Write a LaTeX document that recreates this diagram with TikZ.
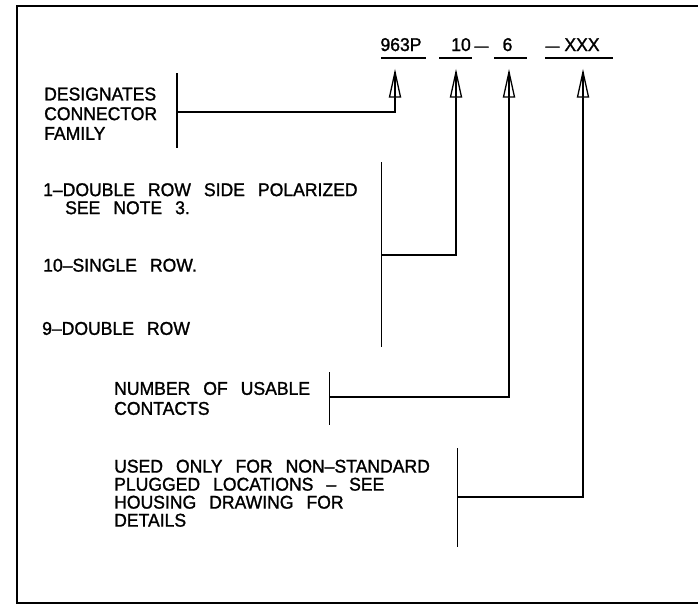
\documentclass[tikz,border=0pt]{standalone}
\usepackage{fontspec}
\newfontfamily\cadfont{Liberation Sans}[FakeStretch=0.95,FakeBold=1.3]
\newcommand\cadtext[1]{\cadfont\fontsize{18.5}{#1}\selectfont\spaceskip=13pt\relax}
\begin{document}
\begin{tikzpicture}[
	x=1pt, y=-1pt,
	note/.style={ anchor=north west, inner sep=0pt, align=left, font=\cadtext{18} },
	code/.style={ anchor=base, inner sep=0pt, font=\cadtext{18} },
	dashmark/.style={ anchor=base, inner sep=0pt, font=\cadfont\fontsize{15}{15}\selectfont },
	leader/.style={ line width=1.3pt },
	frame/.style={ line width=2pt },
	pointer/.pic={ \draw[leader,fill=white] (0,0) -- (-5.5,25) -- (5.5,25) -- cycle; \draw[leader] (0,0) -- (0,25); }
]
\useasboundingbox (0,0) rectangle (698,605);
\draw[frame] (720,6) -- (16.5,6) -- (16.5,603) -- (720,603);

\node at (401,51) (family) [code] {963P};
\node at (461,51) (rows) [code] {10};
\node at (481.5,51) (dasha) [dashmark] {—};
\node at (507.5,51) (count) [code] {6};
\node at (552.5,51) (dashb) [dashmark] {—};
\node at (582,51) (locs) [code] {XXX};
\draw[leader] (381,58) -- (426,58);
\draw[leader] (439,58) -- (472,58);
\draw[leader] (494,58) -- (527,58);
\draw[leader] (545,58) -- (613,58);

\node at (44,87.3) (famnote) [note, font=\cadtext{19.7}] {DESIGNATES\\CONNECTOR\\FAMILY};
\node at (43,183) (rownotea) [note] {1–DOUBLE ROW SIDE POLARIZED\\\hspace{22pt}SEE NOTE 3.};
\node at (43,258.5) (rownoteb) [note] {10–SINGLE ROW.};
\node at (42,321.7) (rownotec) [note] {9–DOUBLE ROW};
\node at (114,381.7) (cntnote) [note, font=\cadtext{20}] {NUMBER OF USABLE\\CONTACTS};
\node at (114,459.5) (locnote) [note] {USED ONLY FOR NON–STANDARD\\PLUGGED LOCATIONS – SEE\\HOUSING DRAWING FOR\\DETAILS};

\coordinate (famjoin) at (177,112);
\coordinate (famtip) at (395,72);
\coordinate (rowjoin) at (381.5,255);
\coordinate (rowtip) at (456,72);
\coordinate (cntjoin) at (329.5,397);
\coordinate (cnttip) at (509,72);
\coordinate (locjoin) at (457.5,497);
\coordinate (loctip) at (583,72);

\draw[leader] (177,73) -- (177,148);
\draw[leader] (381.5,162) -- (381.5,347);
\draw[leader] (329.5,372) -- (329.5,425);
\draw[leader] (457.5,448) -- (457.5,547);

\draw[leader] (famjoin) -| (famtip) pic {pointer};
\draw[leader] (rowjoin) -| (rowtip) pic {pointer};
\draw[leader] (cntjoin) -| (cnttip) pic {pointer};
\draw[leader] (locjoin) -| (loctip) pic {pointer};

\end{tikzpicture}
\end{document}
